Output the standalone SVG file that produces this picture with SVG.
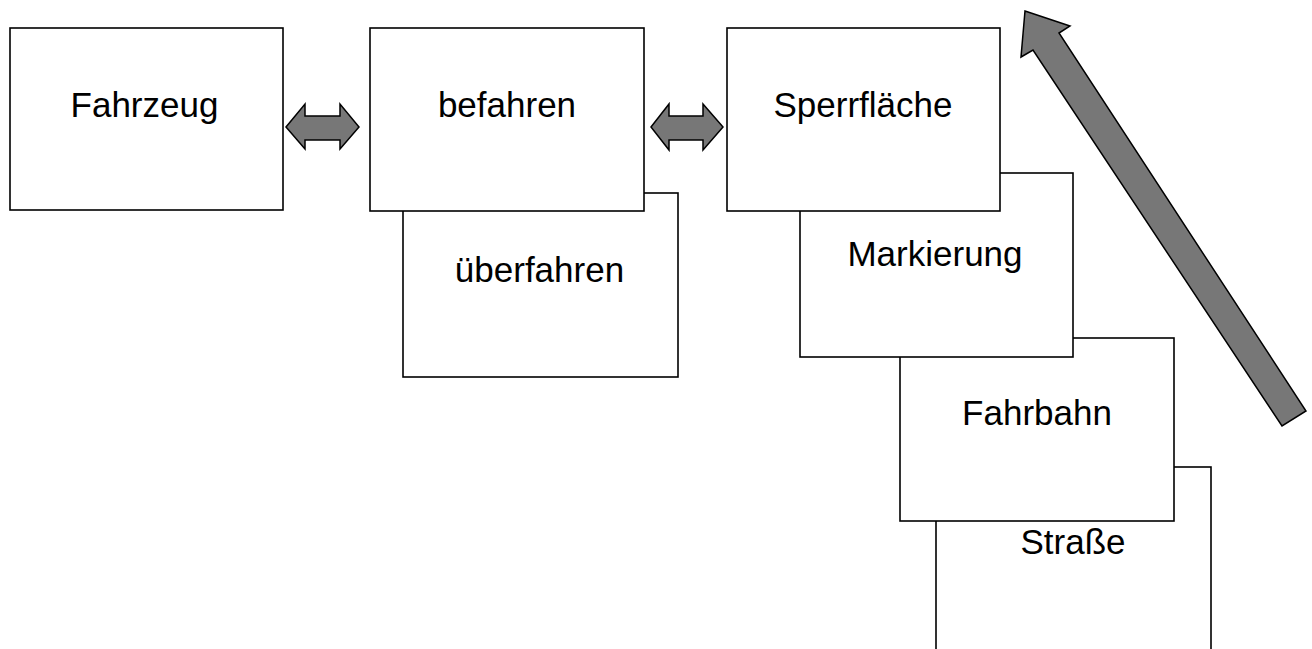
<svg xmlns="http://www.w3.org/2000/svg" width="1312" height="649" viewBox="0 0 1312 649">
<style>
.box{fill:#fff;stroke:#000;stroke-width:1.6}
.lbl{font-family:"Liberation Sans",Arial,sans-serif;font-size:35px;fill:#000;text-anchor:middle}
.arr{fill:#777;stroke:#000;stroke-width:1.5;stroke-linejoin:miter}
</style>
<rect width="1312" height="649" fill="#fff"/>
<g id="node-fahrzeug"><rect class="box" x="10" y="28" width="273" height="182"/><text class="lbl" x="144.5" y="117">Fahrzeug</text></g>
<g id="node-ueberfahren"><rect class="box" x="403" y="193" width="275" height="184"/><text class="lbl" x="539.5" y="282">überfahren</text></g>
<g id="node-befahren"><rect class="box" x="370" y="28" width="274" height="183"/><text class="lbl" x="507" y="117">befahren</text></g>
<g id="node-strasse"><rect class="box" x="936" y="467" width="275" height="200"/><text class="lbl" x="1073" y="554">Straße</text></g>
<g id="node-fahrbahn"><rect class="box" x="900" y="338" width="274" height="183"/><text class="lbl" x="1037" y="425">Fahrbahn</text></g>
<g id="node-markierung"><rect class="box" x="800" y="173" width="273" height="184"/><text class="lbl" x="935" y="266">Markierung</text></g>
<g id="node-sperrflaeche"><rect class="box" x="727" y="28" width="273" height="183"/><text class="lbl" x="863" y="117">Sperrfläche</text></g>
<g id="connectors">
<polygon class="arr" points="286,127 305,104 305,116 340,116 340,104 359,127 340,149 340,140 305,140 305,149"/>
<polygon class="arr" points="651,127 669,104 669,116 703,116 703,104 723,127 703,150 703,140 669,140 669,150"/>
<polygon class="arr" points="1025,11 1070,26 1059,33 1306,411 1282,426 1033,50 1021,57"/>
</g>
</svg>
